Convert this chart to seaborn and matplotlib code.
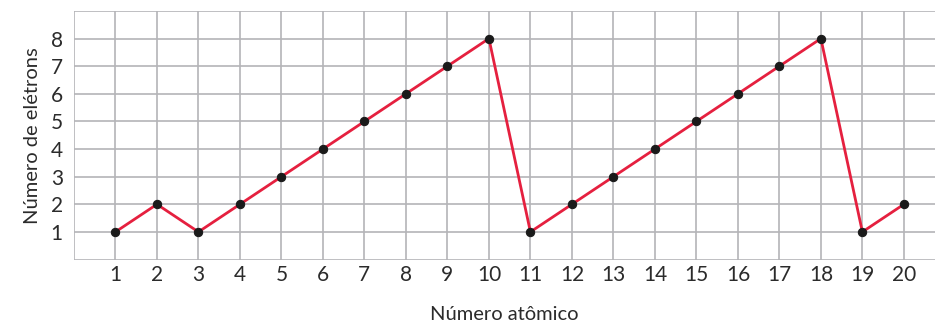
import matplotlib
matplotlib.use("Agg")
import matplotlib.pyplot as plt
import seaborn as sns
import pandas as pd

numero_atomico = list(range(1, 21))
eletrons = [1, 2, 1, 2, 3, 4, 5, 6, 7, 8, 1, 2, 3, 4, 5, 6, 7, 8, 1, 2]
y_ticks = [1, 2, 3, 4, 5, 6, 7, 8]

df = pd.DataFrame({"Z": numero_atomico, "e": eletrons})

sns.set_style("white")
plt.rcParams["font.family"] = ["Lato", "DejaVu Sans"]

fig = plt.figure(figsize=(9.35, 3.22), dpi=100)
ax = fig.add_axes([0.0791, 0.194, 0.9209, 0.772])

grid_col = "#b4b4b8"
for z in [0] + numero_atomico:
    ax.axvline(z, color=grid_col, lw=1.2, zorder=0)
for v in range(0, 10):
    ax.axhline(v, color=grid_col, lw=1.2, zorder=0)

sns.lineplot(data=df, x="Z", y="e", ax=ax, color="#e5203f", lw=2.0,
             marker="o", markersize=6, markerfacecolor="#1a1a1a",
             markeredgecolor="#1a1a1a", zorder=3)

ax.set_xlim(0, 20.75)
ax.set_ylim(0, 9)
ax.set_xticks(numero_atomico)
ax.set_yticks(y_ticks)
ax.tick_params(axis="both", length=0, labelsize=15, colors="#2b2b2b")
ax.tick_params(axis="x", pad=4)
ax.tick_params(axis="y", pad=8)
for s in ax.spines.values():
    s.set_visible(False)

ax.set_xlabel("Número atômico", fontsize=14.5, color="#2b2b2b", labelpad=15)
ax.set_ylabel("Número de elétrons", fontsize=14.5, color="#2b2b2b", labelpad=7)

fig.savefig("out.png", dpi=100)
